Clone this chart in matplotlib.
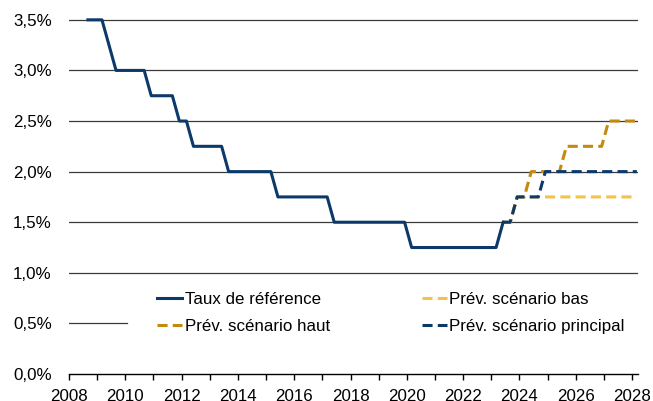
import matplotlib
matplotlib.use("Agg")
import matplotlib.pyplot as plt
from matplotlib.ticker import FuncFormatter, MultipleLocator

plt.rcParams["font.family"] = ["Liberation Sans", "DejaVu Sans"]

# ===== données (années décimales, taux en %)
ref_x = [2008.67, 2009.17, 2009.42, 2009.67, 2010.67, 2010.92, 2011.67, 2011.92,
         2012.17, 2012.42, 2013.42, 2013.67, 2015.17, 2015.42, 2017.17, 2017.42,
         2019.92, 2020.17, 2023.17, 2023.42]
ref_y = [3.5, 3.5, 3.25, 3.0, 3.0, 2.75, 2.75, 2.5,
         2.5, 2.25, 2.25, 2.0, 2.0, 1.75, 1.75, 1.5,
         1.5, 1.25, 1.25, 1.5]

haut_x = [2023.42, 2023.67, 2023.92, 2024.17, 2024.42, 2025.42, 2025.67, 2026.92, 2027.17, 2028.17]
haut_y = [1.5, 1.5, 1.75, 1.75, 2.0, 2.0, 2.25, 2.25, 2.5, 2.5]

bas_x = [2023.42, 2023.67, 2023.92, 2024.67, 2028.17]
bas_y = [1.5, 1.5, 1.75, 1.75, 1.75]

princ_x = [2023.42, 2023.67, 2023.92, 2024.67, 2024.92, 2028.17]
princ_y = [1.5, 1.5, 1.75, 1.75, 2.0, 2.0]

labels = ["Taux de référence", "Prév. scénario haut",
          "Prév. scénario bas", "Prév. scénario principal"]

NAVY = "#0b3a6a"
GOLD = "#c48a0c"
YELLOW = "#f3c24a"
FS = 12.2

fig = plt.figure(figsize=(6.53, 4.01), dpi=100)
ax = fig.add_axes([0.1057, 0.0673, 0.8713, 0.9327])

# lignes de grille horizontales (celle à 0,5 % est masquée par la légende)
for v in [1.0, 1.5, 2.0, 2.5, 3.0, 3.5]:
    ax.axhline(v, color="#3a3a3a", lw=0.9, zorder=1)
ax.axhline(0.5, xmax=0.102, color="#3a3a3a", lw=0.9, zorder=1)

dash = (0, (3.3, 1.7))
l1, = ax.plot(ref_x, ref_y, color=NAVY, lw=2.2, zorder=4, label=labels[0])
l2, = ax.plot(haut_x, haut_y, color=GOLD, lw=2.2, ls=dash, zorder=2, label=labels[1])
l3, = ax.plot(bas_x, bas_y, color=YELLOW, lw=2.2, ls=dash, zorder=2, label=labels[2])
l4, = ax.plot(princ_x, princ_y, color=NAVY, lw=2.2, ls=dash, zorder=3, label=labels[3])

ax.set_xlim(2008, 2028.21)
ax.set_ylim(0, 3.696)

ax.xaxis.set_major_locator(MultipleLocator(2))
ax.xaxis.set_minor_locator(MultipleLocator(1))
ax.yaxis.set_major_locator(MultipleLocator(0.5))
ax.yaxis.set_major_formatter(FuncFormatter(lambda v, p: f"{v:.1f}%".replace(".", ",")))

for s in ["top", "right", "left"]:
    ax.spines[s].set_visible(False)
ax.spines["bottom"].set_color("black")
ax.spines["bottom"].set_linewidth(1.0)
ax.spines["bottom"].set_zorder(5)

ax.tick_params(axis="y", length=0, pad=12.5, labelsize=FS)
ax.tick_params(axis="x", which="both", direction="out", length=4, width=1,
               pad=7, labelsize=FS)

leg = ax.legend(handles=[l1, l2, l3, l4], ncol=2, loc="upper left",
                bbox_to_anchor=(0.1405, 0.241), frameon=False,
                fontsize=FS, handlelength=1.45, handletextpad=0.15,
                columnspacing=5.45, labelspacing=0.68, borderpad=0)

fig.savefig("out.png", dpi=100)
